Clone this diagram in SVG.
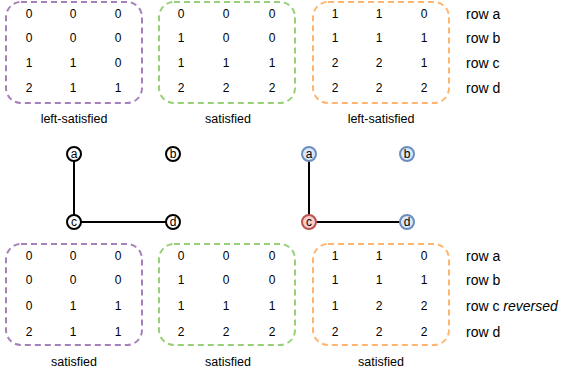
<svg xmlns="http://www.w3.org/2000/svg" width="563" height="371" viewBox="0 0 563 371">
<style>
text{font-family:"Liberation Sans",Arial,sans-serif;font-size:12px;fill:#000}
.n{text-anchor:middle;dominant-baseline:central}
.cap{font-size:12.5px}
.l{dominant-baseline:central;font-size:14px}
.box{fill:none;stroke-width:2;stroke-dasharray:6 4}
.p{stroke:#a680b8}.g{stroke:#97d077}.o{stroke:#ffb570}
.nd{stroke-width:2}
.bk{fill:#fff;stroke:#000}
.bl{fill:#dae8fc;stroke:#6c8ebf}
.rd{fill:#f8cecc;stroke:#b85450}
.e{stroke:#000;stroke-width:2;fill:none}
</style>
<g id="box-top-purple">
<rect class="box p" x="6" y="2" width="136" height="101" rx="15"/>
<text class="n" x="29" y="14">0</text><text class="n" x="73" y="14">0</text><text class="n" x="118" y="14">0</text>
<text class="n" x="29" y="38">0</text><text class="n" x="73" y="38">0</text><text class="n" x="118" y="38">0</text>
<text class="n" x="29" y="63">1</text><text class="n" x="73" y="63">1</text><text class="n" x="118" y="63">0</text>
<text class="n" x="29" y="88">2</text><text class="n" x="73" y="88">1</text><text class="n" x="118" y="88">1</text>
<text class="n cap" x="74" y="119">left-satisfied</text>
</g>
<g id="box-top-green">
<rect class="box g" x="159" y="2" width="136" height="101" rx="15"/>
<text class="n" x="181" y="14">0</text><text class="n" x="226" y="14">0</text><text class="n" x="272" y="14">0</text>
<text class="n" x="181" y="38">1</text><text class="n" x="226" y="38">0</text><text class="n" x="272" y="38">0</text>
<text class="n" x="181" y="63">1</text><text class="n" x="226" y="63">1</text><text class="n" x="272" y="63">1</text>
<text class="n" x="181" y="88">2</text><text class="n" x="226" y="88">2</text><text class="n" x="272" y="88">2</text>
<text class="n cap" x="228" y="119">satisfied</text>
</g>
<g id="box-top-orange">
<rect class="box o" x="313" y="2" width="136" height="101" rx="15"/>
<text class="n" x="335" y="14">1</text><text class="n" x="379" y="14">1</text><text class="n" x="424" y="14">0</text>
<text class="n" x="335" y="38">1</text><text class="n" x="379" y="38">1</text><text class="n" x="424" y="38">1</text>
<text class="n" x="335" y="63">2</text><text class="n" x="379" y="63">2</text><text class="n" x="424" y="63">1</text>
<text class="n" x="335" y="88">2</text><text class="n" x="379" y="88">2</text><text class="n" x="424" y="88">2</text>
<text class="n cap" x="381" y="119">left-satisfied</text>
</g>
<g id="labels-top">
<text class="l" x="466" y="14">row a</text>
<text class="l" x="466" y="38">row b</text>
<text class="l" x="466" y="63">row c</text>
<text class="l" x="466" y="88">row d</text>
</g>
<g id="connectors">
<line class="e" x1="74" y1="154" x2="74" y2="222"/>
<line class="e" x1="74" y1="222" x2="173" y2="222"/>
<line class="e" x1="309" y1="154" x2="309" y2="222"/>
<line class="e" x1="309" y1="222" x2="407" y2="222"/>
</g>
<g id="node-a1"><circle class="nd bk" cx="74" cy="154" r="7"/><text class="n" x="74" y="154">a</text></g>
<g id="node-b1"><circle class="nd bk" cx="173" cy="154" r="7"/><text class="n" x="173" y="154">b</text></g>
<g id="node-c1"><circle class="nd bk" cx="74" cy="222" r="7"/><text class="n" x="74" y="222">c</text></g>
<g id="node-d1"><circle class="nd bk" cx="173" cy="222" r="7"/><text class="n" x="173" y="222">d</text></g>
<g id="node-a2"><circle class="nd bl" cx="309" cy="154" r="7"/><text class="n" x="309" y="154">a</text></g>
<g id="node-b2"><circle class="nd bl" cx="407" cy="154" r="7"/><text class="n" x="407" y="154">b</text></g>
<g id="node-c2"><circle class="nd rd" cx="309" cy="222" r="7"/><text class="n" x="309" y="222">c</text></g>
<g id="node-d2"><circle class="nd bl" cx="407" cy="222" r="7"/><text class="n" x="407" y="222">d</text></g>
<g id="box-bottom-purple">
<rect class="box p" x="6" y="244" width="136" height="101" rx="15"/>
<text class="n" x="29" y="256">0</text><text class="n" x="73" y="256">0</text><text class="n" x="118" y="256">0</text>
<text class="n" x="29" y="280">0</text><text class="n" x="73" y="280">0</text><text class="n" x="118" y="280">0</text>
<text class="n" x="29" y="306">0</text><text class="n" x="73" y="306">1</text><text class="n" x="118" y="306">1</text>
<text class="n" x="29" y="332">2</text><text class="n" x="73" y="332">1</text><text class="n" x="118" y="332">1</text>
<text class="n cap" x="74" y="362">satisfied</text>
</g>
<g id="box-bottom-green">
<rect class="box g" x="159" y="244" width="136" height="101" rx="15"/>
<text class="n" x="181" y="256">0</text><text class="n" x="226" y="256">0</text><text class="n" x="272" y="256">0</text>
<text class="n" x="181" y="280">1</text><text class="n" x="226" y="280">0</text><text class="n" x="272" y="280">0</text>
<text class="n" x="181" y="306">1</text><text class="n" x="226" y="306">1</text><text class="n" x="272" y="306">1</text>
<text class="n" x="181" y="332">2</text><text class="n" x="226" y="332">2</text><text class="n" x="272" y="332">2</text>
<text class="n cap" x="228" y="362">satisfied</text>
</g>
<g id="box-bottom-orange">
<rect class="box o" x="313" y="244" width="136" height="101" rx="15"/>
<text class="n" x="335" y="256">1</text><text class="n" x="379" y="256">1</text><text class="n" x="424" y="256">0</text>
<text class="n" x="335" y="280">1</text><text class="n" x="379" y="280">1</text><text class="n" x="424" y="280">1</text>
<text class="n" x="335" y="306">1</text><text class="n" x="379" y="306">2</text><text class="n" x="424" y="306">2</text>
<text class="n" x="335" y="332">2</text><text class="n" x="379" y="332">2</text><text class="n" x="424" y="332">2</text>
<text class="n cap" x="381" y="362">satisfied</text>
</g>
<g id="labels-bottom">
<text class="l" x="466" y="256">row a</text>
<text class="l" x="466" y="280">row b</text>
<text class="l" x="466" y="306">row c <tspan font-style="italic">reversed</tspan></text>
<text class="l" x="466" y="332">row d</text>
</g>
</svg>
